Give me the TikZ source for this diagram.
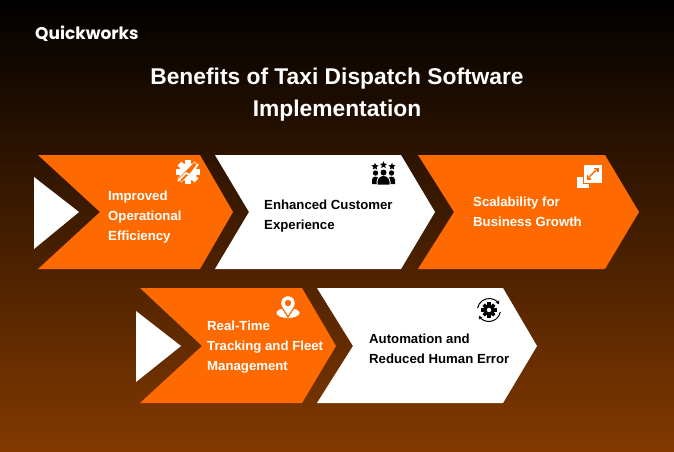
\documentclass[tikz,border=0pt]{standalone}
\usepackage{fontspec}
\setmainfont{Liberation Sans}
\newfontfamily\logofont{Poppins}
\usetikzlibrary{positioning,calc,shapes.geometric,arrows.meta}
\definecolor{quickorange}{RGB}{255,106,0}
\definecolor{quickdark}{RGB}{130,57,0}
\definecolor{quickmid}{RGB}{70,31,3}
\tikzset{
    chevorange/.style={fill=quickorange},
    chevwhite/.style={fill=white},
    whitetext/.style={text=white, align=left, anchor=west, inner sep=0pt, font=\bfseries\fontsize{13.2}{20.3}\selectfont},
    blacktext/.style={whitetext, text=black},
    titletext/.style={text=white, align=center, inner sep=0pt, font=\bfseries\fontsize{22.8}{32}\selectfont},
    starmark/.style={star, star points=5, star point ratio=2.2, fill=black, inner sep=0pt, minimum size=7.5pt},
    geartooth/.pic={
        \fill (0,0) circle[radius=#1];
        \foreach \a in {0,45,...,315}
            \fill[rotate=\a] (-0.3*#1,0) rectangle (0.3*#1,1.32*#1);
    }
}
\begin{document}
\begin{tikzpicture}[x=1pt,y=-1pt]
    \useasboundingbox (0,0) rectangle (674,451);
    % background
    \shade[top color=black, middle color=quickmid, bottom color=quickdark] (0,0) rectangle (674,451);
    \node [text=white, anchor=west, inner sep=0pt, font=\logofont\bfseries\fontsize{17}{17}\selectfont] (logo) at (35,34) {Quickworks};
    \node [titletext] (title) at (337,95) {Benefits of Taxi Dispatch Software\\Implementation};
    % upper row
    \fill[white] (34,177) -- (79,212) -- (34,249) -- cycle;
    \fill[chevorange] (38,155) -- (200,155) -- (233,212) -- (200,269) -- (38,269) -- (100,212) -- cycle;
    \fill[chevwhite] (215,155) -- (401,155) -- (435,212) -- (401,269) -- (215,269) -- (249,212) -- cycle;
    \fill[chevorange] (418,155) -- (605,155) -- (639,212) -- (605,269) -- (418,269) -- (454,212) -- cycle;
    \node [whitetext] (efficiency) at (108,217) {Improved\\Operational\\Efficiency};
    \node [blacktext] (experience) at (264,216) {Enhanced Customer\\Experience};
    \node [whitetext] (growth) at (473,212) {Scalability for\\Business Growth};
    % lower row
    \fill[white] (136,311) -- (181,346) -- (136,382) -- cycle;
    \fill[chevorange] (140,288) -- (302,288) -- (336,346) -- (302,403) -- (140,403) -- (202,346) -- cycle;
    \fill[chevwhite] (317,288) -- (503,288) -- (537,346) -- (503,403) -- (317,403) -- (353,346) -- cycle;
    \node [whitetext] (tracking) at (207,347) {Real-Time\\Tracking and Fleet\\Management};
    \node [blacktext] (automation) at (369,349) {Automation and\\Reduced Human Error};
    % gear with chart
    \pic [white] at (188,172) {geartooth=9};
    \draw[quickorange, line width=4.5pt] (180,180) -- (196,164);
    \draw[white, line width=1.6pt] (178,181) -- (186,173) -- (190,175) -- (198,164);
    % stars and people
    \node [starmark] (starleft) at (375,166.5) {};
    \node [starmark] (starmid) at (383.5,165) {};
    \node [starmark] (starright) at (392,166.5) {};
    \fill (375.5,173) circle[radius=2.7];
    \fill (391.5,173) circle[radius=2.7];
    \fill (372,184) -- (372,180) arc[start angle=180, end angle=360, radius=3.5] -- (379,184) -- cycle;
    \fill (388,184) -- (388,180) arc[start angle=180, end angle=360, radius=3.5] -- (395,184) -- cycle;
    \fill[white] (383.5,172.5) circle[radius=3.9];
    \fill[white] (376.5,185) -- (376.5,182) arc[start angle=180, end angle=360, radius=7] -- (390.5,185) -- cycle;
    \fill (383.5,172.5) circle[radius=3];
    \fill (377.5,184.5) -- (377.5,182) arc[start angle=180, end angle=360, radius=6] -- (389.5,184.5) -- cycle;
    % resize squares
    \fill[white] (577,177) rectangle (589,188);
    \filldraw[fill=white, draw=quickorange, line width=1pt] (583,164) rectangle (602,183);
    \draw[quickorange, line width=1.4pt, {Straight Barb[length=3pt,width=6pt]}-{Straight Barb[length=3pt,width=6pt]}] (586.5,179.5) -- (598.5,167.5);
    % location pin
    \fill[white] (288,313) ellipse[x radius=11.5, y radius=5];
    \filldraw[fill=white, draw=quickorange, line width=1.2pt] (294.5,306.8) -- (288,317) -- (281.5,306.8) arc[start angle=150, end angle=390, radius=7.5] -- cycle;
    \fill[quickorange] (288,303) circle[radius=3.2];
    % gear with arrows
    \pic [black] at (489,310) {geartooth=5.7};
    \fill[white] (489,310) circle[radius=2.2];
    \draw[line width=1pt, -{Stealth[length=3.5pt,width=4.5pt]}] (489,310) ++(-170:11.5) arc[start angle=-170, end angle=-30, radius=11.5];
    \draw[line width=1pt, -{Stealth[length=3.5pt,width=4.5pt]}] (489,310) ++(10:11.5) arc[start angle=10, end angle=150, radius=11.5];
\end{tikzpicture}
\end{document}
